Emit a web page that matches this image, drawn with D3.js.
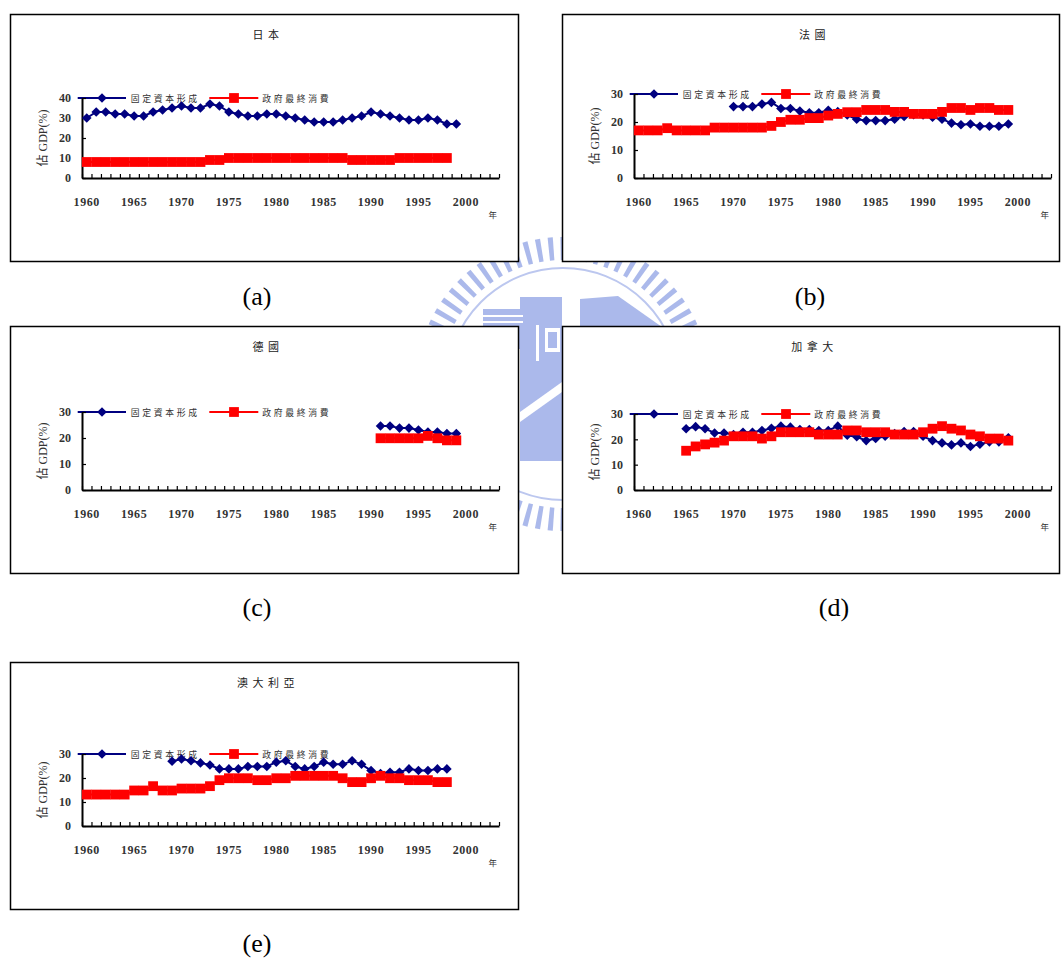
<!DOCTYPE html>
<html>
<head>
<meta charset="utf-8">
<script src="https://cdn.jsdelivr.net/npm/d3@7"></script>
<style>
  html, body { margin: 0; padding: 0; background: #fff; }
  svg { display: block; }
</style>
</head>
<body>
<svg id="chart" width="1061" height="963"></svg>
<script>
// ---- Data -------------------------------------------------------------
// Category axis: one slot per year, 1960–2003
const years = d3.range(1960, 2004);
const yearLabels = [1960, 1965, 1970, 1975, 1980, 1985, 1990, 1995, 2000];
const seriesNames = ["固定資本形成", "政府最終消費"];
const panelTitles = ["日本", "法國", "德國", "加拿大", "澳大利亞"];
const panelCaptions = ["(a)", "(b)", "(c)", "(d)", "(e)"];
const yTicksJapan = [0, 10, 20, 30, 40];
const yTicksOther = [0, 10, 20, 30];
const yAxisTitle = "佔 GDP(%)";
const xAxisUnit = "年";

// Japan (% of GDP)
const japanCapitalStart = 1960;
const japanCapital = [30, 33, 33, 32, 32, 31, 31, 33, 34, 35, 36, 35, 35, 37, 36, 33, 32, 31, 31, 32,
                      32, 31, 30, 29, 28, 28, 28, 29, 30, 31, 33, 32, 31, 30, 29, 29, 30, 29, 27, 27];
const japanGovtStart = 1960;
const japanGovt = [8, 8, 8, 8, 8, 8, 8, 8, 8, 8, 8, 8, 8, 9, 9, 10, 10, 10, 10, 10,
                   10, 10, 10, 10, 10, 10, 10, 10, 9, 9, 9, 9, 9, 10, 10, 10, 10, 10, 10];

// France
const franceCapitalStart = 1970;
const franceCapital = [25.5, 25.5, 25.5, 26.4, 27, 24.8, 24.8, 23.9, 23.3, 23.3,
                       24.2, 23.7, 22.5, 21, 20.5, 20.5, 20.5, 21, 22, 22.6,
                       22.5, 21.7, 21, 19.6, 19, 19.3, 18.5, 18.5, 18.5, 19.3];
const franceGovtStart = 1960;
const franceGovt = [17, 17, 17, 17.8, 17, 17, 17, 17, 18, 18,
                    18, 18, 18, 18, 18.6, 20, 20.8, 20.8, 21.4, 21.4,
                    22.3, 22.9, 23.5, 23.5, 24.3, 24.3, 24.3, 23.6, 23.6, 22.9,
                    22.9, 22.9, 23.6, 25, 25, 24.3, 25, 25, 24.3, 24.3];

// Germany
const germanyCapitalStart = 1991;
const germanyCapital = [24.6, 24.6, 23.8, 23.8, 23.1, 22.3, 22.3, 21.7, 21.7];
const germanyGovtStart = 1991;
const germanyGovt = [19.9, 19.9, 19.9, 19.9, 19.9, 20.8, 19.9, 19.1, 19.1];

// Canada
const canadaCapitalStart = 1965;
const canadaCapital = [24.2, 25, 24.2, 22.5, 22.5, 21.9, 22.8, 22.8, 23.5, 24.4,
                       25.2, 24.8, 23.9, 23.9, 23.5, 23.5, 25.2, 21.6, 21, 19.5,
                       20.3, 21.2, 22.3, 23.1, 23.1, 21.2, 19.5, 18.6, 17.8, 18.6,
                       17.2, 18.1, 19, 19, 20.6];
const canadaGovtStart = 1965;
const canadaGovt = [15.5, 17.2, 18, 18.7, 19.5, 21.2, 21.2, 21.2, 20.3, 21.2,
                    22.8, 22.8, 22.8, 22.8, 21.9, 21.9, 21.9, 23.5, 23.5, 22.8,
                    22.8, 22.8, 21.9, 21.9, 21.9, 22.8, 24.2, 25.2, 24.2, 23.5,
                    21.9, 21.2, 20.3, 20.3, 19.5];

// Australia
const australiaCapitalStart = 1969;
const australiaCapital = [27, 27.9, 27.2, 26.3, 25.4, 23.8, 23.8, 23.8, 24.8, 24.8,
                          24.8, 26.6, 27.2, 24.8, 23.8, 24.8, 26.6, 25.7, 25.7, 27.2,
                          25.7, 23.1, 21.9, 22.4, 22.4, 23.8, 23.1, 23.1, 23.8, 23.8];
const australiaGovtStart = 1960;
const australiaGovt = [13.1, 13.1, 13.1, 13.1, 13.1, 14.8, 14.8, 16.6, 14.8, 14.8,
                       15.6, 15.6, 15.6, 16.6, 19.1, 19.9, 19.9, 19.9, 19.1, 19.1,
                       19.9, 19.9, 20.9, 20.9, 20.9, 20.9, 20.9, 19.9, 18.3, 18.3,
                       19.9, 20.9, 19.9, 19.9, 19.1, 19.1, 19.1, 18.3, 18.3];

// ---- Layout ----------------------------------------------------------
const panels = [
  { box: { x: 10,  y: 14,  w: 508, h: 247 }, yTop: 84, ticks: yTicksJapan,
    cap: [japanCapitalStart, japanCapital], gov: [japanGovtStart, japanGovt] },
  { box: { x: 562, y: 14,  w: 497, h: 247 }, yTop: 80, ticks: yTicksOther,
    cap: [franceCapitalStart, franceCapital], gov: [franceGovtStart, franceGovt] },
  { box: { x: 10,  y: 326, w: 508, h: 247 }, yTop: 86, ticks: yTicksOther,
    cap: [germanyCapitalStart, germanyCapital], gov: [germanyGovtStart, germanyGovt] },
  { box: { x: 562, y: 326, w: 497, h: 247 }, yTop: 88, ticks: yTicksOther,
    cap: [canadaCapitalStart, canadaCapital], gov: [canadaGovtStart, canadaGovt] },
  { box: { x: 10,  y: 662, w: 508, h: 247 }, yTop: 92, ticks: yTicksOther,
    cap: [australiaCapitalStart, australiaCapital], gov: [australiaGovtStart, australiaGovt] }
];
const captionPos = [[257, 305], [810, 305], [257, 616], [834, 616], [257, 952]];

const plotLeft = 72, plotRight = 489, plotBottom = 164;
const navy = "#000080", red = "#ff0000";
const serif = "'Liberation Serif', 'Times New Roman', serif";
const cjk = "'Noto Sans CJK TC', 'Noto Sans CJK SC', sans-serif";

const svg = d3.select("#chart");

// ---- Faint emblem in the background ----------------------------------
const wm = svg.append("g").attr("fill", "#a7b6ea").attr("opacity", 0.95);
const wmCx = 563, wmCy = 384;
const teeth = d3.range(0, 72);
wm.selectAll("path.tooth").data(teeth).join("path")
  .attr("class", "tooth")
  .attr("transform", d => `translate(${wmCx},${wmCy}) rotate(${d * 5})`)
  .attr("d", "M-2.6,-147 L2.6,-147 L2.2,-124 L-2.2,-124 Z");
wm.append("circle").attr("cx", wmCx).attr("cy", wmCy).attr("r", 116)
  .attr("fill", "none").attr("stroke", "#b9c5ef").attr("stroke-width", 2);
// building blocks inside the ring
wm.append("rect").attr("x", 483).attr("y", 309).attr("width", 52).attr("height", 40);
wm.append("rect").attr("x", 520).attr("y", 297).attr("width", 42).attr("height", 164);
wm.append("path").attr("d", "M580,299 L618,296 L662,327 L662,360 L580,360 Z");
const wmWhite = svg.append("g").attr("fill", "#fff");
wmWhite.append("rect").attr("x", 483).attr("y", 315).attr("width", 40).attr("height", 2);
wmWhite.append("rect").attr("x", 483).attr("y", 321).attr("width", 40).attr("height", 2);
wmWhite.append("rect").attr("x", 536).attr("y", 325).attr("width", 3).attr("height", 36);
wmWhite.append("path").attr("d", "M545,328 L560,328 L560,352 L545,352 Z M548,332 L548,348 L557,348 L557,332 Z")
  .attr("fill-rule", "evenodd");
wmWhite.append("path").attr("d", "M520,412 L562,382 L562,392 L520,422 Z");

// Diamond marker as a custom d3 symbol type
const diamond = {
  draw(ctx, size) {
    const r = Math.sqrt(size / 2);
    ctx.moveTo(0, -r); ctx.lineTo(r, 0); ctx.lineTo(0, r); ctx.lineTo(-r, 0); ctx.closePath();
  }
};
const diamondPath = d3.symbol().type(diamond).size(2 * 4.8 * 4.8)();
const squarePath = d3.symbol().type(d3.symbolSquare).size(9.8 * 9.8)();

// ---- Panels -------------------------------------------------------------
panels.forEach((p, i) => {
  const g = svg.append("g").attr("transform", `translate(${p.box.x},${p.box.y})`);

  g.append("rect")
    .attr("x", 0.5).attr("y", 0.5).attr("width", p.box.w).attr("height", p.box.h)
    .attr("fill", "#fff").attr("stroke", "#000").attr("stroke-width", 1.5);

  // title
  g.append("text")
    .attr("x", p.box.w / 2 + 4).attr("y", 25)
    .attr("text-anchor", "middle")
    .attr("font-family", cjk).attr("font-size", 11).attr("letter-spacing", 4.5)
    .attr("fill", "#222")
    .text(panelTitles[i]);

  const x = d3.scaleBand().domain(years).range([plotLeft, plotRight]).paddingInner(0).paddingOuter(0);
  const cx = yr => x(yr) + x.bandwidth() / 2;
  const yMax = p.ticks[p.ticks.length - 1];
  const y = d3.scaleLinear().domain([0, yMax]).range([plotBottom, p.yTop]);

  // legend (sits underneath the data marks)
  const lg = g.append("g").attr("transform", `translate(0,${p.yTop})`);
  const legendItems = [
    { name: seriesNames[0], color: navy, x0: 67.7, x1: 116, m: 92, tx: 120.7, shape: diamondPath },
    { name: seriesNames[1], color: red, x0: 199.3, x1: 248.3, m: 224, tx: 252.3, shape: squarePath }
  ];
  legendItems.forEach(it => {
    lg.append("line").attr("x1", it.x0).attr("x2", it.x1).attr("y1", 0).attr("y2", 0)
      .attr("stroke", it.color).attr("stroke-width", 2);
    lg.append("path").attr("d", it.shape).attr("transform", `translate(${it.m},0)`).attr("fill", it.color);
    lg.append("text").attr("x", it.tx).attr("y", 3.5)
      .attr("font-family", cjk).attr("font-size", 8.8).attr("letter-spacing", 2.7)
      .attr("fill", "#333").text(it.name);
  });

  // y axis
  const yAxis = d3.axisLeft(y).tickValues(p.ticks).tickSizeInner(-4).tickSizeOuter(0).tickPadding(11);
  const yg = g.append("g").attr("transform", `translate(${plotLeft},0)`).call(yAxis);
  yg.select(".domain").attr("stroke", "#000").attr("stroke-width", 2);
  yg.selectAll(".tick line").attr("stroke", "#000").attr("stroke-width", 1.2);
  yg.selectAll(".tick text").attr("font-family", serif).attr("font-size", 12)
    .attr("fill", "#333").attr("font-weight", "bold");

  // x axis: tick marks on category boundaries, labels every five years
  const xEdge = d3.scaleLinear().domain([1959.5, 2003.5]).range([plotLeft, plotRight]);
  const edges = years.map(yr => yr - 0.5).concat([2003.5]);
  const xTicks = d3.axisBottom(xEdge).tickValues(edges).tickSizeInner(-4).tickSizeOuter(0).tickFormat("");
  const xg = g.append("g").attr("transform", `translate(0,${plotBottom})`).call(xTicks);
  xg.select(".domain").attr("stroke", "#000").attr("stroke-width", 2);
  xg.selectAll(".tick line").attr("stroke", "#000").attr("stroke-width", 1.2);

  const xLabels = d3.axisBottom(x).tickValues(yearLabels).tickSize(0).tickPadding(19);
  const xl = g.append("g").attr("transform", `translate(0,${plotBottom})`).call(xLabels);
  xl.select(".domain").remove();
  xl.selectAll(".tick text").attr("font-family", serif).attr("font-size", 12)
    .attr("fill", "#333").attr("font-weight", "bold").attr("letter-spacing", 0.6);

  g.append("text").attr("x", 482.7).attr("y", 203.5).attr("text-anchor", "middle")
    .attr("font-family", cjk).attr("font-size", 8.5).attr("fill", "#333").text(xAxisUnit);

  // y axis title
  g.append("text")
    .attr("transform", `translate(36.5,${(plotBottom + p.yTop) / 2}) rotate(-90)`)
    .attr("text-anchor", "middle")
    .attr("font-family", `${serif}, ${cjk}`).attr("font-size", 12).attr("fill", "#333")
    .text(yAxisTitle);

  // series: capital formation first, government consumption drawn on top
  const series = [
    { start: p.cap[0], values: p.cap[1], color: navy, shape: diamondPath },
    { start: p.gov[0], values: p.gov[1], color: red, shape: squarePath }
  ];
  series.forEach(s => {
    const pts = s.values.map((v, k) => ({ year: s.start + k, v }));
    const line = d3.line().x(d => cx(d.year)).y(d => y(d.v));
    g.append("path").datum(pts).attr("d", line)
      .attr("fill", "none").attr("stroke", s.color).attr("stroke-width", 2);
    g.append("g").selectAll("path").data(pts).join("path")
      .attr("d", s.shape)
      .attr("transform", d => `translate(${cx(d.year)},${y(d.v)})`)
      .attr("fill", s.color);
  });

  // caption below the panel
  svg.append("text")
    .attr("x", captionPos[i][0]).attr("y", captionPos[i][1])
    .attr("text-anchor", "middle")
    .attr("font-family", serif).attr("font-size", 26).attr("fill", "#000")
    .text(panelCaptions[i]);
});
</script>
</body>
</html>
